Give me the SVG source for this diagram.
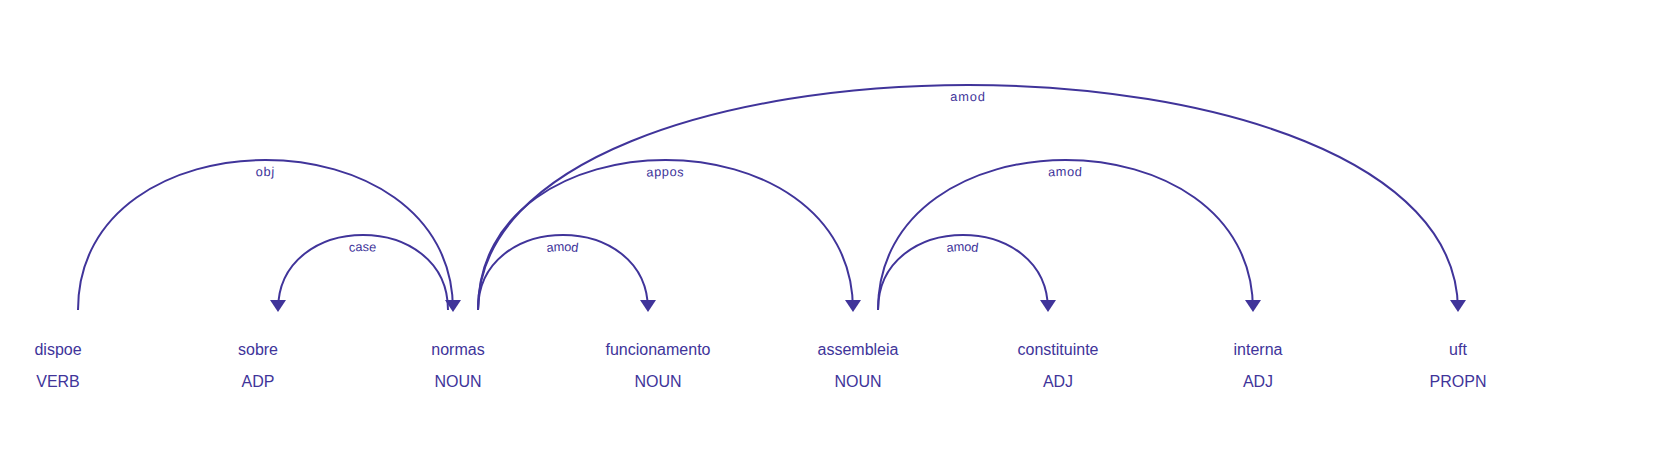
<svg xmlns="http://www.w3.org/2000/svg" xmlns:xlink="http://www.w3.org/1999/xlink" width="1664" height="453" viewBox="0 0 1664 453">
<style>
.tok{font-family:"Liberation Sans",Arial,sans-serif;font-size:16px;fill:#40349a;text-anchor:middle}
.arc{fill:none;stroke:#40349a;stroke-width:2px}
.head{fill:#40349a}
.lbl{font-family:"Liberation Sans",Arial,sans-serif;font-size:12.8px;letter-spacing:1px;fill:#40349a}
</style>
<rect width="1664" height="453" fill="#ffffff"/>
<g id="w0"><text class="tok" y="355"><tspan x="58">dispoe</tspan><tspan x="58" dy="2em">VERB</tspan></text></g>
<g id="w1"><text class="tok" y="355"><tspan x="258">sobre</tspan><tspan x="258" dy="2em">ADP</tspan></text></g>
<g id="w2"><text class="tok" y="355"><tspan x="458">normas</tspan><tspan x="458" dy="2em">NOUN</tspan></text></g>
<g id="w3"><text class="tok" y="355"><tspan x="658">funcionamento</tspan><tspan x="658" dy="2em">NOUN</tspan></text></g>
<g id="w4"><text class="tok" y="355"><tspan x="858">assembleia</tspan><tspan x="858" dy="2em">NOUN</tspan></text></g>
<g id="w5"><text class="tok" y="355"><tspan x="1058">constituinte</tspan><tspan x="1058" dy="2em">ADJ</tspan></text></g>
<g id="w6"><text class="tok" y="355"><tspan x="1258">interna</tspan><tspan x="1258" dy="2em">ADJ</tspan></text></g>
<g id="w7"><text class="tok" y="355"><tspan x="1458">uft</tspan><tspan x="1458" dy="2em">PROPN</tspan></text></g>
<g id="connectors">
<g><path id="a0" class="arc" d="M78,310 C78,110 453,110 453,310"/><text class="lbl" dy="1.25em"><textPath xlink:href="#a0" href="#a0" startOffset="50%" text-anchor="middle">obj</textPath></text><path class="head" d="M453,312 L461,300 445,300"/></g>
<g><path id="a1" class="arc" d="M278,310 C278,210 448,210 448,310"/><text class="lbl" dy="1.25em"><textPath xlink:href="#a1" href="#a1" startOffset="50%" text-anchor="middle">case</textPath></text><path class="head" d="M278,312 L270,300 286,300"/></g>
<g><path id="a2" class="arc" d="M478,310 C478,210 648,210 648,310"/><text class="lbl" dy="1.25em"><textPath xlink:href="#a2" href="#a2" startOffset="50%" text-anchor="middle">amod</textPath></text><path class="head" d="M648,312 L656,300 640,300"/></g>
<g><path id="a3" class="arc" d="M478,310 C478,110 853,110 853,310"/><text class="lbl" dy="1.25em"><textPath xlink:href="#a3" href="#a3" startOffset="50%" text-anchor="middle">appos</textPath></text><path class="head" d="M853,312 L861,300 845,300"/></g>
<g><path id="a4" class="arc" d="M478,310 C478,10 1458,10 1458,310"/><text class="lbl" dy="1.25em"><textPath xlink:href="#a4" href="#a4" startOffset="50%" text-anchor="middle">amod</textPath></text><path class="head" d="M1458,312 L1466,300 1450,300"/></g>
<g><path id="a5" class="arc" d="M878,310 C878,210 1048,210 1048,310"/><text class="lbl" dy="1.25em"><textPath xlink:href="#a5" href="#a5" startOffset="50%" text-anchor="middle">amod</textPath></text><path class="head" d="M1048,312 L1056,300 1040,300"/></g>
<g><path id="a6" class="arc" d="M878,310 C878,110 1253,110 1253,310"/><text class="lbl" dy="1.25em"><textPath xlink:href="#a6" href="#a6" startOffset="50%" text-anchor="middle">amod</textPath></text><path class="head" d="M1253,312 L1261,300 1245,300"/></g>
</g>
</svg>
